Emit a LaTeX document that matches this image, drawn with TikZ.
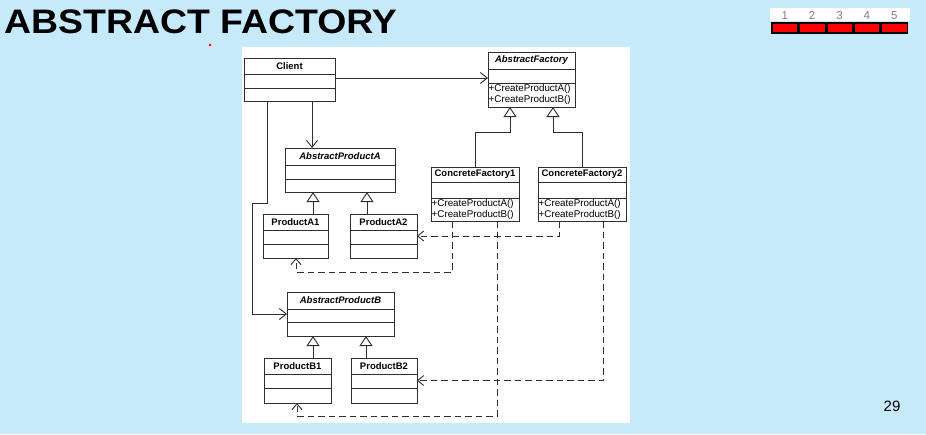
\documentclass[tikz,border=0pt]{standalone}
\usepackage{fontspec}
\setmainfont{Liberation Sans}
\usepackage{xcolor}
\usepackage{tikz}
\usetikzlibrary{arrows.meta,calc}
\definecolor{slide}{HTML}{C6EAFA}
\definecolor{ink}{HTML}{2E2E2E}
\definecolor{barred}{HTML}{FF0000}
\definecolor{numgray}{HTML}{808080}

% class box: name, left, top, right, first divider, second divider, bottom, title, operations
\newcommand{\umlclass}[9]{%
  \node[classbox,minimum width=#4pt-#2pt,minimum height=#7pt-#3pt,anchor=north west] (#1) at (#2,#3) {};
  \draw[ink,line width=0.9pt] (#2,#5) -- (#4,#5) (#2,#6) -- (#4,#6);
  \node[classname] (#1-name) at ({(#2+#4)/2},{(#3+#5)/2}) {#8};
  \node[classops] (#1-ops) at (#2,#6) {#9};
}

\begin{document}
\begin{tikzpicture}[x=1pt,y=-1pt,
  classbox/.style={draw=ink,line width=0.9pt,fill=white,inner sep=0pt,outer sep=0pt},
  classname/.style={font=\fontsize{9.5}{10}\selectfont\bfseries,inner sep=0pt},
  classops/.style={anchor=north west,align=left,inner xsep=0.5pt,inner ysep=1.5pt,font=\fontsize{9.8}{11}\selectfont},
  assoc/.style={draw=ink,line width=0.9pt,-{Straight Barb[length=7pt,width=11pt]}},
  inherit/.style={draw=ink,line width=0.9pt,-{Triangle[open,length=10pt,width=13pt,fill=white]}},
  dep/.style={draw=ink,line width=0.9pt,dash pattern=on 6.5pt off 4pt,-{Straight Barb[length=6pt,width=10pt]}}]

\fill[slide] (0,0) rectangle (926,434);
\node[anchor=base west,inner sep=0pt,xscale=1.1,transform shape,font=\fontsize{34}{34}\selectfont\bfseries] (title) at (4,33) {ABSTRACT FACTORY};
\fill[barred] (210,45) circle (1.4);

% progress strip
\fill[white] (770,8) rectangle (910,21);
\foreach \i in {1,...,5}{
  \node[font=\fontsize{11.5}{11.5}\selectfont,text=numgray,inner sep=0pt,anchor=base] (num\i) at ({771+27.4*(\i-0.5)},19.5) {\i};
}
\fill[black] (771,22) rectangle (908,34);
\foreach \i in {1,...,5}{
  \fill[barred] ({771+27.4*(\i-1)+1.8},23.8) rectangle ({771+27.4*\i-1.2},32.2);
}

\fill[white] (242,47) rectangle (630,423);

\umlclass{client}{244}{58}{335}{74}{88}{101}{Client}{}
\umlclass{af}{488}{52}{575}{69}{83}{107}{\itshape AbstractFactory}{+CreateProductA()\\+CreateProductB()}
\umlclass{apa}{285}{148}{395}{165}{179}{192}{\itshape AbstractProductA}{}
\umlclass{cf1}{431}{167}{519}{182}{198}{221}{ConcreteFactory1}{+CreateProductA()\\+CreateProductB()}
\umlclass{cf2}{538}{167}{626}{182}{198}{221}{ConcreteFactory2}{+CreateProductA()\\+CreateProductB()}
\umlclass{pa1}{263}{214}{328}{230}{244}{258}{ProductA1}{}
\umlclass{pa2}{350}{214}{417}{230}{244}{258}{ProductA2}{}
\umlclass{apb}{287}{292}{394}{309}{322}{336}{\itshape AbstractProductB}{}
\umlclass{pb1}{264}{358}{331}{374}{388}{403}{ProductB1}{}
\umlclass{pb2}{351}{358}{417}{374}{388}{403}{ProductB2}{}

% associations
\coordinate (cf) at (335,78);
\draw[assoc] (cf) -- (cf -| af.west);
\coordinate (ca) at (312,101);
\draw[assoc] (ca) -- (ca |- apa.north);
\coordinate (cb) at (267,101);
\draw[assoc] (cb) |- (252,203) |- (apb.west);

% generalisations
\coordinate (g1) at (510,132);
\coordinate (g2) at (553,132);
\draw[inherit] (cf1.north) |- (g1) -- (g1 |- af.south);
\draw[inherit] (cf2.north) |- (g2) -- (g2 |- af.south);
\draw[inherit] (313,0 |- pa1.north) -- (313,0 |- apa.south);
\draw[inherit] (367,0 |- pa2.north) -- (367,0 |- apa.south);
\draw[inherit] (313,0 |- pb1.north) -- (313,0 |- apb.south);
\draw[inherit] (366,0 |- pb2.north) -- (366,0 |- apb.south);

% creates
\draw[dep] (452,0 |- cf1.south) -- (452,272) -| (296,0 |- pa1.south);
\draw[dep] (559,0 |- cf2.south) |- (pa2.east);
\draw[dep] (497,0 |- cf1.south) -- (497,416) -| (297,0 |- pb1.south);
\draw[dep] (603,0 |- cf2.south) |- (pb2.east);

\node[font=\fontsize{15}{15}\selectfont,inner sep=0pt] (page) at (892,406) {29};
\end{tikzpicture}
\end{document}
